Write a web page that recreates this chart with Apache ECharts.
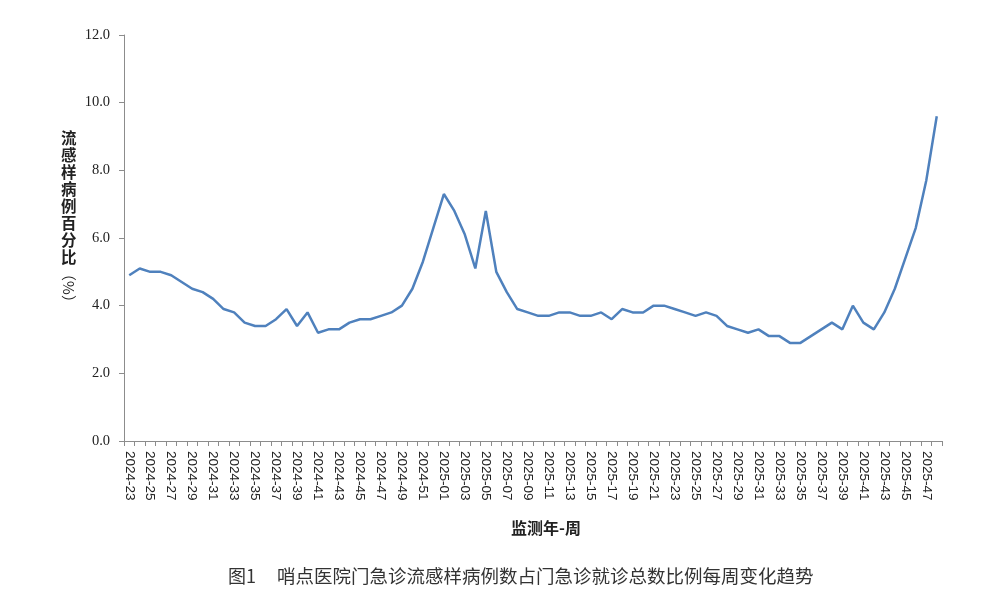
<!DOCTYPE html>
<html>
<head>
<meta charset="utf-8">
<script src="https://cdn.jsdelivr.net/npm/echarts@6/dist/echarts.min.js"></script>
<style>html,body{margin:0;padding:0;background:#fff;}#c{width:1000px;height:589px;}</style>
</head>
<body>
<div id="c"></div>
<script>
// Week categories
const weeks2024 = [];
for (let w = 23; w <= 52; w++) weeks2024.push('2024-' + String(w).padStart(2, '0'));
const weeks2025 = [];
for (let w = 1; w <= 48; w++) weeks2025.push('2025-' + String(w).padStart(2, '0'));
const categories = weeks2024.concat(weeks2025);

// ILI percentage values
const iliValues = [
  4.9, 5.1, 5.0, 5.0, 4.9, 4.7, 4.5, 4.4, 4.2, 3.9,
  3.8, 3.5, 3.4, 3.4, 3.6, 3.9, 3.4, 3.8, 3.2, 3.3,
  3.3, 3.5, 3.6, 3.6, 3.7, 3.8, 4.0, 4.5, 5.3, 6.3,
  7.3, 6.8, 6.1, 5.1, 6.8, 5.0, 4.4, 3.9, 3.8, 3.7,
  3.7, 3.8, 3.8, 3.7, 3.7, 3.8, 3.6, 3.9, 3.8, 3.8,
  4.0, 4.0, 3.9, 3.8, 3.7, 3.8, 3.7, 3.4, 3.3, 3.2,
  3.3, 3.1, 3.1, 2.9, 2.9, 3.1, 3.3, 3.5, 3.3, 4.0,
  3.5, 3.3, 3.8, 4.5, 5.4, 6.3, 7.7, 9.6
];

const yTicks = { min: 0, max: 12, interval: 2 };

const chart = echarts.init(document.getElementById('c'));
chart.setOption({
  animation: false,
  backgroundColor: '#ffffff',
  grid: { left: 124, right: 58, top: 35, bottom: 148 },
  xAxis: {
    type: 'category',
    data: categories,
    boundaryGap: true,
    axisLine: { lineStyle: { color: '#8c8c8c', width: 1 } },
    axisTick: { show: true, interval: 0, alignWithLabel: false, length: 5, lineStyle: { color: '#8c8c8c' } },
    axisLabel: {
      interval: 1,
      rotate: -90,
      margin: 10,
      fontFamily: 'Liberation Sans',
      fontSize: 13.5,
      color: '#222'
    },
    splitLine: { show: false }
  },
  yAxis: {
    type: 'value',
    min: yTicks.min,
    max: yTicks.max,
    interval: yTicks.interval,
    axisLine: { show: true, lineStyle: { color: '#8c8c8c', width: 1 } },
    axisTick: { show: true, length: 5, lineStyle: { color: '#8c8c8c' } },
    axisLabel: {
      formatter: v => v.toFixed(1),
      margin: 14,
      fontFamily: 'Liberation Serif',
      fontSize: 14.5,
      color: '#222'
    },
    splitLine: { show: false }
  },
  series: [{
    type: 'line',
    data: iliValues,
    showSymbol: false,
    symbol: 'none',
    lineStyle: { color: '#4f81bd', width: 2.5 },
    itemStyle: { color: '#4f81bd' }
  }],
  graphic: [
    {
      type: 'text',
      left: 61,
      top: 130,
      style: {
        text: '流\n感\n样\n病\n例\n百\n分\n比',
        fontFamily: 'Noto Sans CJK SC',
        fontSize: 15.5,
        fontWeight: 'bold',
        lineHeight: 17,
        fill: '#222'
      }
    },
    {
      type: 'text',
      x: 69,
      y: 288,
      rotation: -Math.PI / 2,
      style: {
        text: '（%）',
        fontFamily: 'Noto Sans CJK SC',
        fontSize: 15,
        fill: '#222',
        align: 'center',
        verticalAlign: 'middle'
      }
    },
    {
      type: 'text',
      x: 546,
      y: 528,
      style: {
        text: '监测年-周',
        fontFamily: 'Noto Sans CJK SC',
        fontWeight: 'bold',
        fontSize: 16,
        fill: '#222',
        align: 'center',
        verticalAlign: 'middle'
      }
    },
    {
      type: 'text',
      x: 228,
      y: 576,
      style: {
        text: '图1',
        fontFamily: 'Noto Sans CJK SC',
        fontSize: 18,
        fill: '#333',
        verticalAlign: 'middle'
      }
    },
    {
      type: 'text',
      x: 277,
      y: 576,
      style: {
        text: '哨点医院门急诊流感样病例数占门急诊就诊总数比例每周变化趋势',
        fontFamily: 'Noto Sans CJK SC',
        fontSize: 18.5,
        fill: '#333',
        verticalAlign: 'middle'
      }
    }
  ]
});
</script>
</body>
</html>
